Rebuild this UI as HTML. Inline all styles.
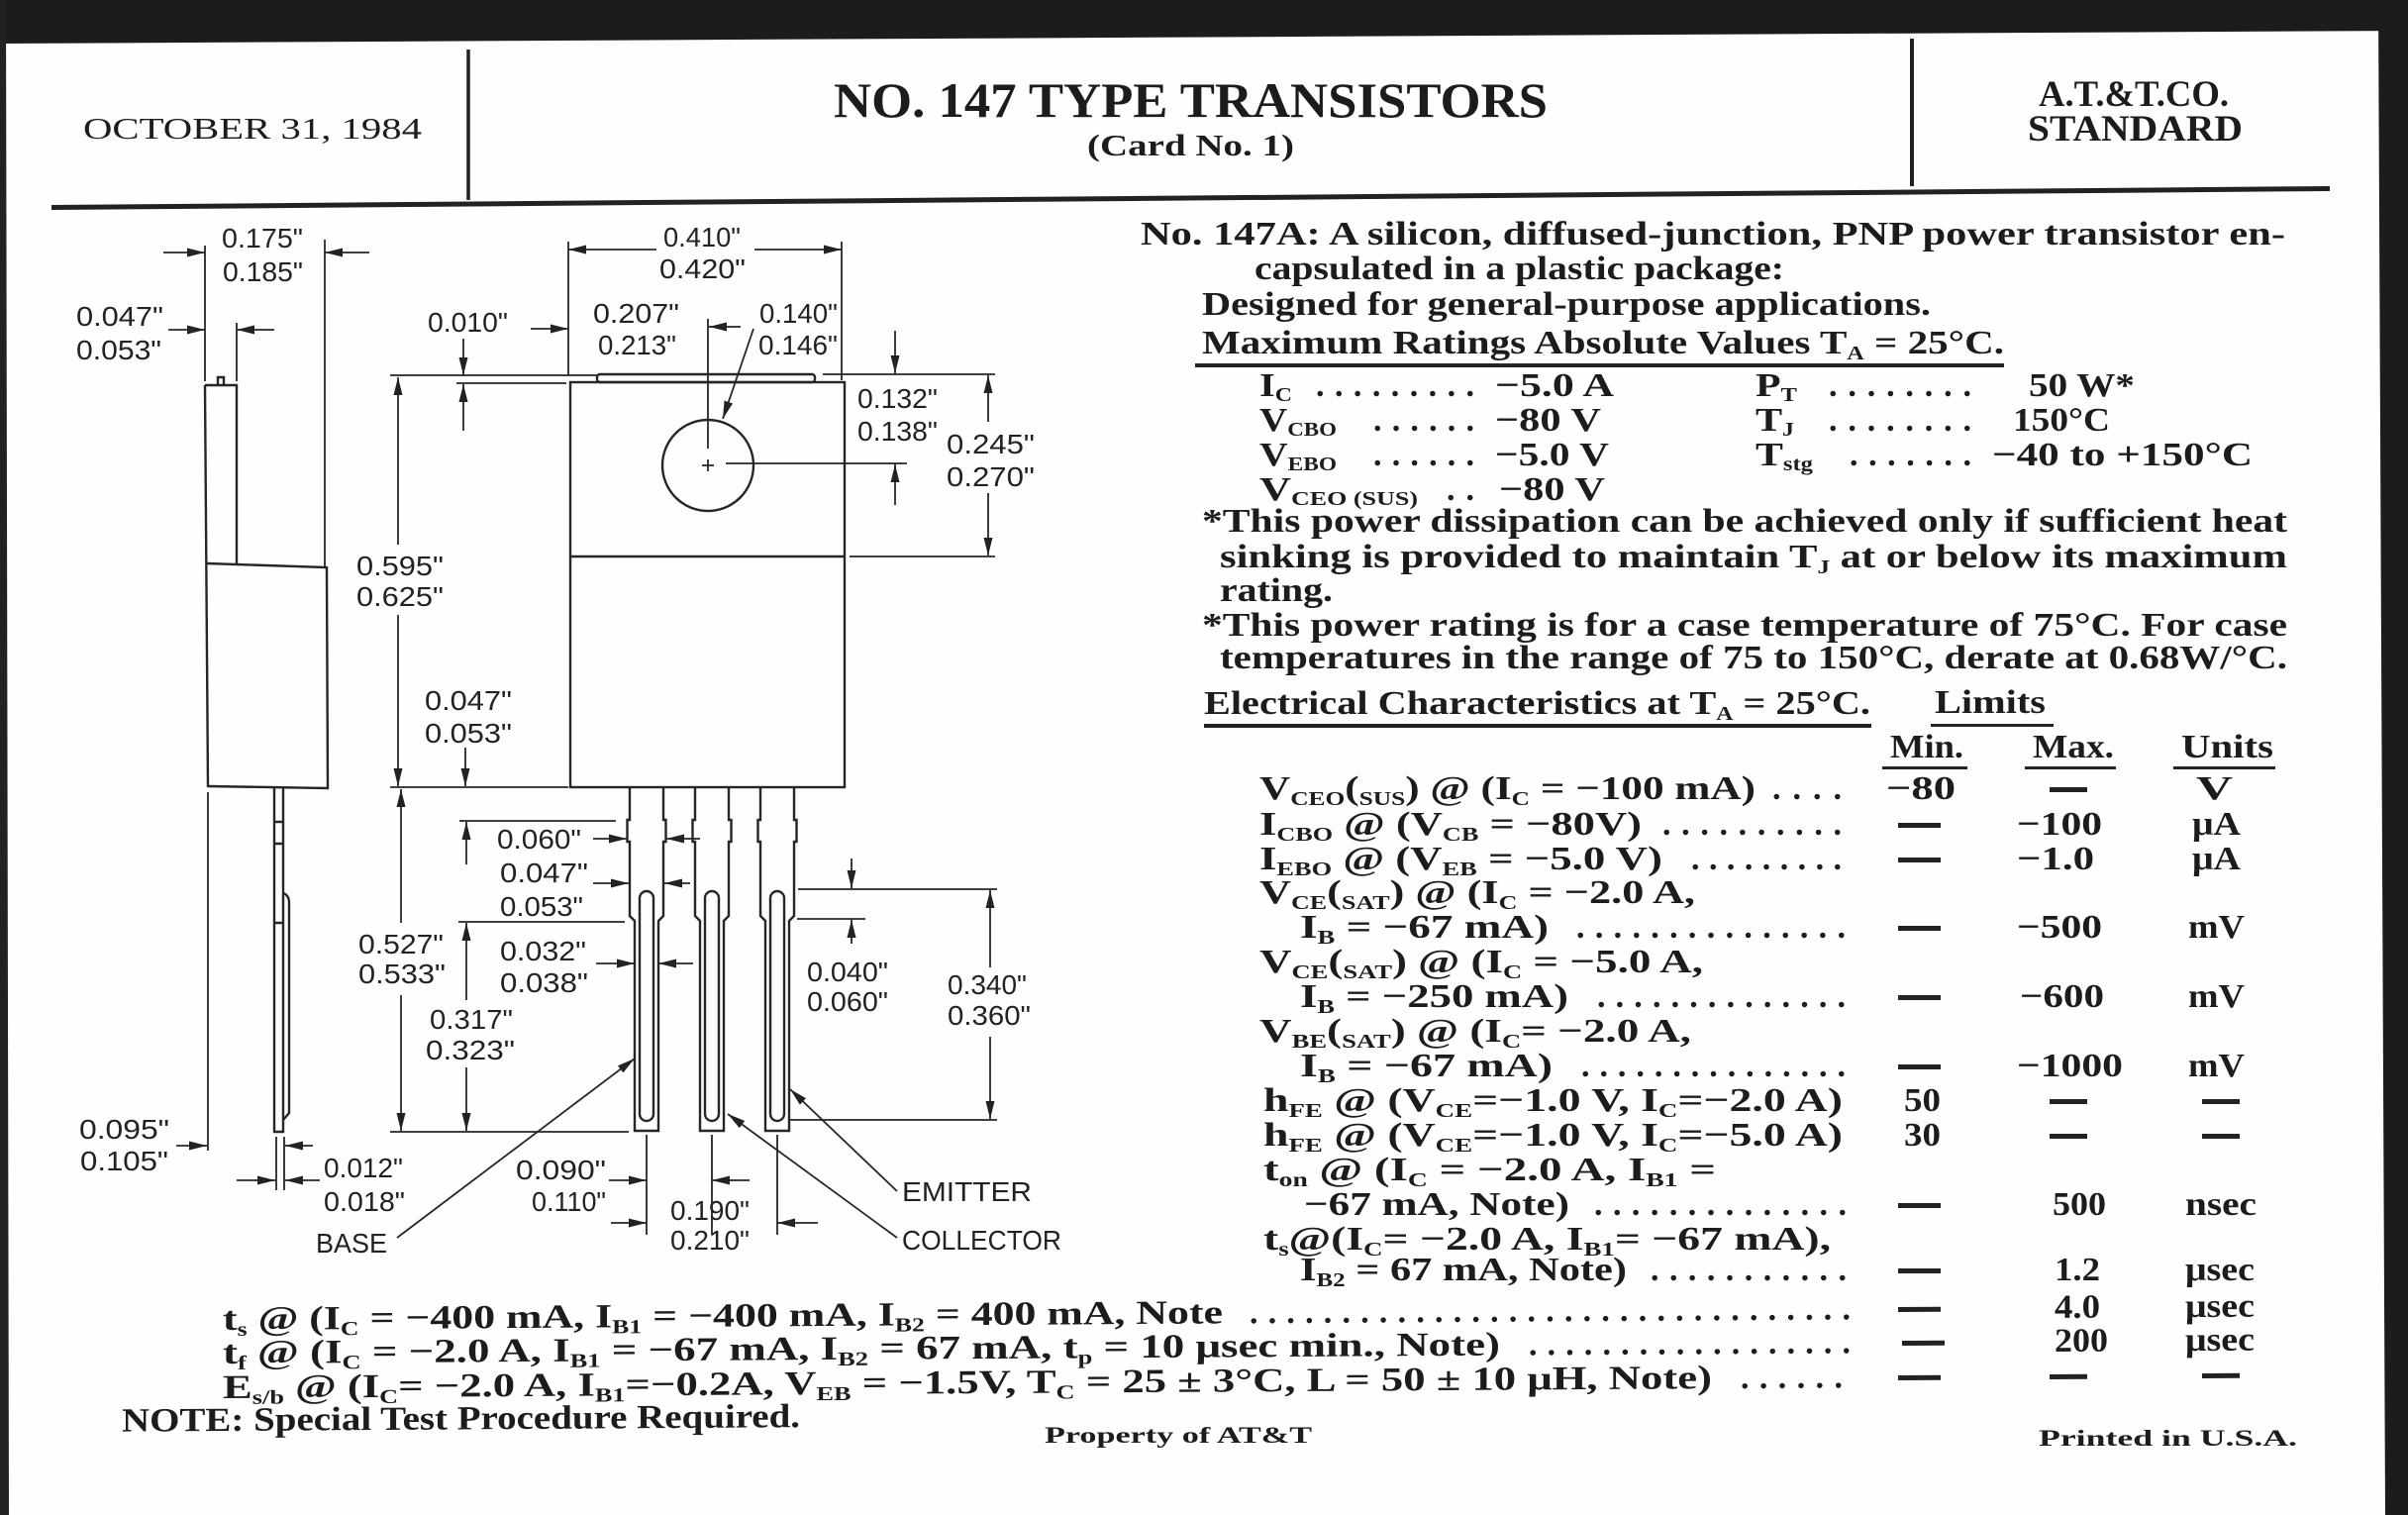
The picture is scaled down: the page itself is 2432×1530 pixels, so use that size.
<!DOCTYPE html>
<html><head><meta charset="utf-8">
<style>
html,body{margin:0;padding:0;background:#fff;}
svg{display:block}
.d{font-family:"Liberation Sans",Arial,sans-serif;font-size:28px;fill:#222}
.t{font-family:"Liberation Serif","Times New Roman",serif;font-weight:bold;font-size:34px;fill:#1c1c1c}
.s{font-size:20px}
.ln{stroke:#262626;stroke-width:2.4;fill:none}
.ln2{stroke:#262626;stroke-width:1.8;fill:none}
</style></head><body>
<svg width="2432" height="1530" viewBox="0 0 2432 1530" xmlns="http://www.w3.org/2000/svg">
<defs>
<marker id="a" viewBox="0 0 18 9" refX="18" refY="4.5" markerWidth="18" markerHeight="9" markerUnits="userSpaceOnUse" orient="auto">
<path d="M0,0 L18,4.5 L0,9 z" fill="#222"/>
</marker>
</defs>
<rect x="0" y="0" width="2432" height="1530" fill="#fefefe"/>
<!-- scan borders -->
<polygon points="0,0 2432,0 2432,31 0,44" fill="#1c1c1c"/>
<polygon points="2402,0 2432,0 2432,1530 2409,1530" fill="#1c1c1c"/>
<polygon points="0,0 6,0 9,1530 0,1530" fill="#222"/>

<!-- header -->
<text x="84" y="140" textLength="342" lengthAdjust="spacingAndGlyphs" style="font-family:'Liberation Serif',serif;font-size:31px;fill:#1c1c1c">OCTOBER 31, 1984</text>
<line x1="473" y1="50" x2="473" y2="202" stroke="#222" stroke-width="3.5"/>
<text x="842" y="118" textLength="721" lengthAdjust="spacingAndGlyphs" style="font-family:'Liberation Serif',serif;font-weight:bold;font-size:50px;fill:#1c1c1c">NO. 147 TYPE TRANSISTORS</text>
<text x="1098" y="157" textLength="209" lengthAdjust="spacingAndGlyphs" style="font-family:'Liberation Serif',serif;font-weight:bold;font-size:31px;fill:#1c1c1c">(Card No. 1)</text>
<line x1="1931" y1="39" x2="1931" y2="188" stroke="#222" stroke-width="4"/>
<text x="2059" y="107" textLength="192" lengthAdjust="spacingAndGlyphs" style="font-family:'Liberation Serif',serif;font-weight:bold;font-size:37px;fill:#1c1c1c">A.T.&amp;T.CO.</text>
<text x="2048" y="142" textLength="217" lengthAdjust="spacingAndGlyphs" style="font-family:'Liberation Serif',serif;font-weight:bold;font-size:37px;fill:#1c1c1c">STANDARD</text>
<polygon points="52,207 2353,188 2353,193 52,212" fill="#222"/>

<!-- drawing -->
<g class="ln">
<!-- side view -->
<path d="M207,389 L210,795"/>
<path d="M207,389 H239 V569"/>
<path d="M220,389 V381 H226 V389"/>
<path d="M209,569 L330,573 L331,796 L210,794"/>
<path class="ln2" d="M207,248 V385 M239,326 V385 M328,242 V572"/>
<path class="ln2" d="M165,255 H207" marker-end="url(#a)"/>
<path class="ln2" d="M373,255 H328" marker-end="url(#a)"/>
<path class="ln2" d="M170,333 H207" marker-end="url(#a)"/>
<path class="ln2" d="M277,333 H239" marker-end="url(#a)"/>
<path d="M277,796 V1143 H286 V796 M277,830 H286 M277,852 H286 M277,932 H286"/>
<path d="M286,902 Q292,904 292,912 V1124 L286,1131"/>
<path class="ln2" d="M210,800 V1162 M279,1148 V1202 M287,1148 V1202"/>
<path class="ln2" d="M178,1157 H209" marker-end="url(#a)"/>
<path class="ln2" d="M316,1157 H288" marker-end="url(#a)"/>
<path class="ln2" d="M239,1192 H278" marker-end="url(#a)"/>
<path class="ln2" d="M323,1192 H288" marker-end="url(#a)"/>

<!-- front view -->
<rect x="576" y="386" width="277" height="409"/>
<path d="M576,562 H853"/>
<rect x="603" y="378" width="220" height="8" rx="3"/>
<circle cx="715" cy="470" r="46"/>
<path class="ln2" d="M709,470 H721 M715,464 V476"/>
<path class="ln2" d="M715,322 V453 M733,468 H916"/>
<path class="ln2" d="M574,244 V379 M850,244 V384"/>
<path class="ln2" d="M663,252 H574" marker-end="url(#a)"/>
<path class="ln2" d="M762,252 H850" marker-end="url(#a)"/>
<path class="ln2" d="M394,379 H603 M461,387 H572"/>
<path class="ln2" d="M468,342 V379" marker-end="url(#a)"/>
<path class="ln2" d="M468,435 V388" marker-end="url(#a)"/>
<path class="ln2" d="M536,332 H574" marker-end="url(#a)"/>
<path class="ln2" d="M748,330 H716" marker-end="url(#a)"/>
<path class="ln2" d="M761,332 L730,423" marker-end="url(#a)"/>
<path class="ln2" d="M831,378 H1005"/>
<path class="ln2" d="M904,334 V377" marker-end="url(#a)"/>
<path class="ln2" d="M904,510 V469" marker-end="url(#a)"/>
<path class="ln2" d="M998,426 V379" marker-end="url(#a)"/>
<path class="ln2" d="M998,498 V561" marker-end="url(#a)"/>
<path class="ln2" d="M858,562 H1005"/>
<path class="ln2" d="M402,550 V381" marker-end="url(#a)"/>
<path class="ln2" d="M402,621 V794" marker-end="url(#a)"/>
<path class="ln2" d="M394,795 H574"/>
<path class="ln2" d="M470,755 V794" marker-end="url(#a)"/>
<path class="ln2" d="M471,873 V830" marker-end="url(#a)"/>
<path class="ln2" d="M405,932 V797" marker-end="url(#a)"/>
<path class="ln2" d="M405,1005 V1142" marker-end="url(#a)"/>
<path class="ln2" d="M471,1010 V932" marker-end="url(#a)"/>
<path class="ln2" d="M471,1078 V1142" marker-end="url(#a)"/>
<path class="ln2" d="M464,829 H622 M463,931 H631 M394,1143 H635"/>

<!-- leads -->
<path d="M636,795 V828 H633.5 V850 H636 V925 L641,930 V1142 H665 V930 L670,925 V850 H672.5 V828 H670 V795"/>
<rect x="646" y="900" width="14" height="232" rx="7"/>
<path d="M702,795 V828 H699.5 V850 H702 V925 L707,930 V1142 H731 V930 L736,925 V850 H738.5 V828 H736 V795"/>
<rect x="712" y="900" width="14" height="232" rx="7"/>
<path d="M768,795 V828 H765.5 V850 H768 V925 L773,930 V1142 H797 V930 L802,925 V850 H804.5 V828 H802 V795"/>
<rect x="778" y="900" width="14" height="232" rx="7"/>

<path class="ln2" d="M860,867 V897" marker-end="url(#a)"/>
<path class="ln2" d="M860,953 V929" marker-end="url(#a)"/>
<path class="ln2" d="M1000,977 V899" marker-end="url(#a)"/>
<path class="ln2" d="M1000,1047 V1130" marker-end="url(#a)"/>
<path class="ln2" d="M806,898 H1007 M805,928 H874 M798,1131 H1007"/>

<path class="ln2" d="M599,847 H633" marker-end="url(#a)"/>
<path class="ln2" d="M707,847 H673" marker-end="url(#a)"/>
<path class="ln2" d="M599,892 H635" marker-end="url(#a)"/>
<path class="ln2" d="M697,892 H671" marker-end="url(#a)"/>
<path class="ln2" d="M602,973 H641" marker-end="url(#a)"/>
<path class="ln2" d="M700,973 H665" marker-end="url(#a)"/>

<path class="ln2" d="M653,1146 V1247 M719,1146 V1247 M785,1146 V1247"/>
<path class="ln2" d="M615,1192 H653" marker-end="url(#a)"/>
<path class="ln2" d="M757,1192 H719" marker-end="url(#a)"/>
<path class="ln2" d="M617,1235 H653" marker-end="url(#a)"/>
<path class="ln2" d="M826,1235 H785" marker-end="url(#a)"/>
<path class="ln2" d="M401,1250 L641,1069" marker-end="url(#a)"/>
<path class="ln2" d="M906,1203 L798,1100" marker-end="url(#a)"/>
<path class="ln2" d="M906,1250 L735,1125" marker-end="url(#a)"/>
</g>

<!-- dimension labels -->
<g class="d">
<text x="224" y="250" textLength="82" lengthAdjust="spacingAndGlyphs">0.175"</text>
<text x="225" y="284" textLength="81" lengthAdjust="spacingAndGlyphs">0.185"</text>
<text x="77" y="329" textLength="88" lengthAdjust="spacingAndGlyphs">0.047"</text>
<text x="77" y="363" textLength="86" lengthAdjust="spacingAndGlyphs">0.053"</text>
<text x="432" y="335" textLength="81" lengthAdjust="spacingAndGlyphs">0.010"</text>
<text x="670" y="249" textLength="78" lengthAdjust="spacingAndGlyphs">0.410"</text>
<text x="666" y="281" textLength="87" lengthAdjust="spacingAndGlyphs">0.420"</text>
<text x="599" y="326" textLength="87" lengthAdjust="spacingAndGlyphs">0.207"</text>
<text x="604" y="358" textLength="79" lengthAdjust="spacingAndGlyphs">0.213"</text>
<text x="767" y="326" textLength="79" lengthAdjust="spacingAndGlyphs">0.140"</text>
<text x="766" y="358" textLength="80" lengthAdjust="spacingAndGlyphs">0.146"</text>
<text x="866" y="412" textLength="81" lengthAdjust="spacingAndGlyphs">0.132"</text>
<text x="866" y="445" textLength="81" lengthAdjust="spacingAndGlyphs">0.138"</text>
<text x="956" y="458" textLength="89" lengthAdjust="spacingAndGlyphs">0.245"</text>
<text x="956" y="491" textLength="89" lengthAdjust="spacingAndGlyphs">0.270"</text>
<text x="360" y="581" textLength="88" lengthAdjust="spacingAndGlyphs">0.595"</text>
<text x="360" y="612" textLength="88" lengthAdjust="spacingAndGlyphs">0.625"</text>
<text x="429" y="717" textLength="88" lengthAdjust="spacingAndGlyphs">0.047"</text>
<text x="429" y="750" textLength="88" lengthAdjust="spacingAndGlyphs">0.053"</text>
<text x="502" y="857" textLength="85" lengthAdjust="spacingAndGlyphs">0.060"</text>
<text x="505" y="891" textLength="89" lengthAdjust="spacingAndGlyphs">0.047"</text>
<text x="505" y="925" textLength="84" lengthAdjust="spacingAndGlyphs">0.053"</text>
<text x="362" y="963" textLength="86" lengthAdjust="spacingAndGlyphs">0.527"</text>
<text x="362" y="993" textLength="88" lengthAdjust="spacingAndGlyphs">0.533"</text>
<text x="505" y="970" textLength="87" lengthAdjust="spacingAndGlyphs">0.032"</text>
<text x="505" y="1002" textLength="89" lengthAdjust="spacingAndGlyphs">0.038"</text>
<text x="434" y="1039" textLength="84" lengthAdjust="spacingAndGlyphs">0.317"</text>
<text x="430" y="1070" textLength="90" lengthAdjust="spacingAndGlyphs">0.323"</text>
<text x="815" y="991" textLength="82" lengthAdjust="spacingAndGlyphs">0.040"</text>
<text x="815" y="1021" textLength="82" lengthAdjust="spacingAndGlyphs">0.060"</text>
<text x="957" y="1004" textLength="80" lengthAdjust="spacingAndGlyphs">0.340"</text>
<text x="957" y="1035" textLength="84" lengthAdjust="spacingAndGlyphs">0.360"</text>
<text x="80" y="1150" textLength="91" lengthAdjust="spacingAndGlyphs">0.095"</text>
<text x="81" y="1182" textLength="89" lengthAdjust="spacingAndGlyphs">0.105"</text>
<text x="327" y="1189" textLength="80" lengthAdjust="spacingAndGlyphs">0.012"</text>
<text x="327" y="1223" textLength="82" lengthAdjust="spacingAndGlyphs">0.018"</text>
<text x="521" y="1191" textLength="91" lengthAdjust="spacingAndGlyphs">0.090"</text>
<text x="537" y="1223" textLength="75" lengthAdjust="spacingAndGlyphs">0.110"</text>
<text x="677" y="1232" textLength="80" lengthAdjust="spacingAndGlyphs">0.190"</text>
<text x="677" y="1262" textLength="80" lengthAdjust="spacingAndGlyphs">0.210"</text>
<text x="319" y="1265" textLength="72" lengthAdjust="spacingAndGlyphs">BASE</text>
<text x="911" y="1213" textLength="131" lengthAdjust="spacingAndGlyphs">EMITTER</text>
<text x="911" y="1262" textLength="161" lengthAdjust="spacingAndGlyphs">COLLECTOR</text>
</g>

<!-- right text -->
<g class="t">
<text x="1152" y="247" textLength="1156" lengthAdjust="spacingAndGlyphs">No. 147A: A silicon, diffused-junction, PNP power transistor en-</text>
<text x="1267" y="282" textLength="535" lengthAdjust="spacingAndGlyphs">capsulated in a plastic package:</text>
<text x="1214" y="318" textLength="736" lengthAdjust="spacingAndGlyphs">Designed for general-purpose applications.</text>
<text x="1214" y="357" textLength="810" lengthAdjust="spacingAndGlyphs">Maximum Ratings Absolute Values T<tspan class="s" dy="6">A</tspan><tspan dy="-6"> = 25°C.</tspan></text>
<rect x="1207" y="367" width="817" height="4" fill="#222"/>

<text x="1272" y="400" textLength="33" lengthAdjust="spacingAndGlyphs">I<tspan class="s" dy="5">C</tspan></text>
<text x="1329" y="400" textLength="160" lengthAdjust="spacing">.........</text>
<text x="1510" y="400" textLength="120" lengthAdjust="spacingAndGlyphs">−5.0 A</text>
<text x="1272" y="435" textLength="78" lengthAdjust="spacingAndGlyphs">V<tspan class="s" dy="5">CBO</tspan></text>
<text x="1387" y="435" textLength="102" lengthAdjust="spacing">......</text>
<text x="1510" y="435" textLength="107" lengthAdjust="spacingAndGlyphs">−80 V</text>
<text x="1272" y="470" textLength="78" lengthAdjust="spacingAndGlyphs">V<tspan class="s" dy="5">EBO</tspan></text>
<text x="1387" y="470" textLength="102" lengthAdjust="spacing">......</text>
<text x="1510" y="470" textLength="115" lengthAdjust="spacingAndGlyphs">−5.0 V</text>
<text x="1272" y="505" textLength="160" lengthAdjust="spacingAndGlyphs">V<tspan class="s" dy="5">CEO  (SUS)</tspan></text>
<text x="1461" y="505" textLength="28" lengthAdjust="spacing">..</text>
<text x="1514" y="505" textLength="107" lengthAdjust="spacingAndGlyphs">−80 V</text>
<text x="1773" y="400" textLength="42" lengthAdjust="spacingAndGlyphs">P<tspan class="s" dy="5">T</tspan></text>
<text x="1847" y="400" textLength="144" lengthAdjust="spacing">........</text>
<text x="2049" y="400" textLength="107" lengthAdjust="spacingAndGlyphs">50 W*</text>
<text x="1773" y="435" textLength="39" lengthAdjust="spacingAndGlyphs">T<tspan class="s" dy="5">J</tspan></text>
<text x="1847" y="435" textLength="144" lengthAdjust="spacing">........</text>
<text x="2033" y="435" textLength="98" lengthAdjust="spacingAndGlyphs">150°C</text>
<text x="1773" y="470" textLength="58" lengthAdjust="spacingAndGlyphs">T<tspan class="s" dy="5">stg</tspan></text>
<text x="1868" y="470" textLength="123" lengthAdjust="spacing">.......</text>
<text x="2012" y="470" textLength="263" lengthAdjust="spacingAndGlyphs">−40 to +150°C</text>

<text x="1214" y="537" textLength="1096" lengthAdjust="spacingAndGlyphs">*This power dissipation can be achieved only if sufficient heat</text>
<text x="1232" y="573" textLength="1078" lengthAdjust="spacingAndGlyphs">sinking is provided to maintain T<tspan class="s" dy="6">J</tspan><tspan dy="-6"> at or below its maximum</tspan></text>
<text x="1232" y="607" textLength="114" lengthAdjust="spacingAndGlyphs">rating.</text>
<text x="1214" y="642" textLength="1096" lengthAdjust="spacingAndGlyphs">*This power rating is for a case temperature of 75°C. For case</text>
<text x="1232" y="675" textLength="1078" lengthAdjust="spacingAndGlyphs">temperatures in the range of 75 to 150°C, derate at 0.68W/°C.</text>

<text x="1216" y="721" textLength="673" lengthAdjust="spacingAndGlyphs">Electrical Characteristics at T<tspan class="s" dy="6">A</tspan><tspan dy="-6"> = 25°C.</tspan></text>
<rect x="1216" y="731" width="674" height="4" fill="#222"/>
<text x="1954" y="720" textLength="112" lengthAdjust="spacingAndGlyphs">Limits</text>
<rect x="1950" y="731" width="124" height="3" fill="#222"/>
<text x="1909" y="765" textLength="74" lengthAdjust="spacingAndGlyphs">Min.</text>
<rect x="1901" y="774" width="86" height="3" fill="#222"/>
<text x="2053" y="765" textLength="82" lengthAdjust="spacingAndGlyphs">Max.</text>
<rect x="2045" y="774" width="92" height="3" fill="#222"/>
<text x="2203" y="765" textLength="93" lengthAdjust="spacingAndGlyphs">Units</text>
<rect x="2195" y="774" width="103" height="3" fill="#222"/>

<!-- rows -->
<text x="1272" y="807" textLength="501" lengthAdjust="spacingAndGlyphs">V<tspan class="s" dy="6">CEO</tspan><tspan dy="-6">(</tspan><tspan class="s" dy="6">SUS</tspan><tspan dy="-6">) @ (I</tspan><tspan class="s" dy="6">C</tspan><tspan dy="-6"> = −100 mA)</tspan></text>
<text x="1790" y="807" textLength="70" lengthAdjust="spacing">....</text>
<text x="1905" y="807" textLength="70" lengthAdjust="spacingAndGlyphs">−80</text>
<rect x="2070" y="795" width="38" height="5" fill="#222"/>
<text x="2218" y="807" textLength="37" lengthAdjust="spacingAndGlyphs">V</text>

<text x="1272" y="843" textLength="386" lengthAdjust="spacingAndGlyphs">I<tspan class="s" dy="6">CBO</tspan><tspan dy="-6"> @ (V</tspan><tspan class="s" dy="6">CB</tspan><tspan dy="-6"> = −80V)</tspan></text>
<text x="1679" y="843" textLength="181" lengthAdjust="spacing">..........</text>
<rect x="1917" y="831" width="43" height="5" fill="#222"/>
<text x="2037" y="843" textLength="86" lengthAdjust="spacingAndGlyphs">−100</text>
<text x="2214" y="843" textLength="49" lengthAdjust="spacingAndGlyphs">μA</text>

<text x="1272" y="878" textLength="407" lengthAdjust="spacingAndGlyphs">I<tspan class="s" dy="6">EBO</tspan><tspan dy="-6"> @ (V</tspan><tspan class="s" dy="6">EB</tspan><tspan dy="-6"> = −5.0 V)</tspan></text>
<text x="1708" y="878" textLength="152" lengthAdjust="spacing">.........</text>
<rect x="1917" y="866" width="43" height="5" fill="#222"/>
<text x="2037" y="878" textLength="78" lengthAdjust="spacingAndGlyphs">−1.0</text>
<text x="2214" y="878" textLength="49" lengthAdjust="spacingAndGlyphs">μA</text>

<text x="1272" y="912" textLength="440" lengthAdjust="spacingAndGlyphs">V<tspan class="s" dy="6">CE</tspan><tspan dy="-6">(</tspan><tspan class="s" dy="6">SAT</tspan><tspan dy="-6">) @ (I</tspan><tspan class="s" dy="6">C</tspan><tspan dy="-6"> = −2.0 A,</tspan></text>
<text x="1313" y="947" textLength="251" lengthAdjust="spacingAndGlyphs">I<tspan class="s" dy="6">B</tspan><tspan dy="-6"> = −67 mA)</tspan></text>
<text x="1592" y="947" textLength="272" lengthAdjust="spacing">...............</text>
<rect x="1917" y="935" width="43" height="5" fill="#222"/>
<text x="2037" y="947" textLength="86" lengthAdjust="spacingAndGlyphs">−500</text>
<text x="2210" y="947" textLength="57" lengthAdjust="spacingAndGlyphs">mV</text>

<text x="1272" y="982" textLength="448" lengthAdjust="spacingAndGlyphs">V<tspan class="s" dy="6">CE</tspan><tspan dy="-6">(</tspan><tspan class="s" dy="6">SAT</tspan><tspan dy="-6">) @ (I</tspan><tspan class="s" dy="6">C</tspan><tspan dy="-6"> = −5.0 A,</tspan></text>
<text x="1313" y="1017" textLength="271" lengthAdjust="spacingAndGlyphs">I<tspan class="s" dy="6">B</tspan><tspan dy="-6"> = −250 mA)</tspan></text>
<text x="1613" y="1017" textLength="251" lengthAdjust="spacing">..............</text>
<rect x="1917" y="1005" width="43" height="5" fill="#222"/>
<text x="2040" y="1017" textLength="85" lengthAdjust="spacingAndGlyphs">−600</text>
<text x="2210" y="1017" textLength="57" lengthAdjust="spacingAndGlyphs">mV</text>

<text x="1272" y="1052" textLength="436" lengthAdjust="spacingAndGlyphs">V<tspan class="s" dy="6">BE</tspan><tspan dy="-6">(</tspan><tspan class="s" dy="6">SAT</tspan><tspan dy="-6">) @ (I</tspan><tspan class="s" dy="6">C</tspan><tspan dy="-6">= −2.0 A,</tspan></text>
<text x="1313" y="1087" textLength="255" lengthAdjust="spacingAndGlyphs">I<tspan class="s" dy="6">B</tspan><tspan dy="-6"> = −67 mA)</tspan></text>
<text x="1597" y="1087" textLength="267" lengthAdjust="spacing">...............</text>
<rect x="1917" y="1075" width="43" height="5" fill="#222"/>
<text x="2037" y="1087" textLength="107" lengthAdjust="spacingAndGlyphs">−1000</text>
<text x="2210" y="1087" textLength="57" lengthAdjust="spacingAndGlyphs">mV</text>

<text x="1276" y="1122" textLength="585" lengthAdjust="spacingAndGlyphs">h<tspan class="s" dy="6">FE</tspan><tspan dy="-6"> @ (V</tspan><tspan class="s" dy="6">CE</tspan><tspan dy="-6">=−1.0 V, I</tspan><tspan class="s" dy="6">C</tspan><tspan dy="-6">=−2.0 A)</tspan></text>
<text x="1923" y="1122" textLength="37" lengthAdjust="spacingAndGlyphs">50</text>
<rect x="2070" y="1110" width="38" height="5" fill="#222"/>
<rect x="2224" y="1110" width="38" height="5" fill="#222"/>

<text x="1276" y="1157" textLength="585" lengthAdjust="spacingAndGlyphs">h<tspan class="s" dy="6">FE</tspan><tspan dy="-6"> @ (V</tspan><tspan class="s" dy="6">CE</tspan><tspan dy="-6">=−1.0 V, I</tspan><tspan class="s" dy="6">C</tspan><tspan dy="-6">=−5.0 A)</tspan></text>
<text x="1923" y="1157" textLength="37" lengthAdjust="spacingAndGlyphs">30</text>
<rect x="2070" y="1145" width="38" height="5" fill="#222"/>
<rect x="2224" y="1145" width="38" height="5" fill="#222"/>

<text x="1276" y="1192" textLength="457" lengthAdjust="spacingAndGlyphs">t<tspan class="s" dy="6">on</tspan><tspan dy="-6"> @ (I</tspan><tspan class="s" dy="6">C</tspan><tspan dy="-6"> = −2.0 A, I</tspan><tspan class="s" dy="6">B1</tspan><tspan dy="-6"> =</tspan></text>
<text x="1317" y="1227" textLength="268" lengthAdjust="spacingAndGlyphs">−67 mA, Note)</text>
<text x="1610" y="1227" textLength="255" lengthAdjust="spacing">..............</text>
<rect x="1917" y="1215" width="43" height="5" fill="#222"/>
<text x="2073" y="1227" textLength="54" lengthAdjust="spacingAndGlyphs">500</text>
<text x="2207" y="1227" textLength="72" lengthAdjust="spacingAndGlyphs">nsec</text>

<text x="1276" y="1262" textLength="573" lengthAdjust="spacingAndGlyphs">t<tspan class="s" dy="6">s</tspan><tspan dy="-6">@(I</tspan><tspan class="s" dy="6">C</tspan><tspan dy="-6">= −2.0 A, I</tspan><tspan class="s" dy="6">B1</tspan><tspan dy="-6">= −67 mA),</tspan></text>
<text x="1313" y="1293" textLength="330" lengthAdjust="spacingAndGlyphs">I<tspan class="s" dy="6">B2</tspan><tspan dy="-6"> = 67 mA, Note)</tspan></text>
<text x="1667" y="1293" textLength="198" lengthAdjust="spacing">...........</text>
<rect x="1917" y="1281" width="43" height="5" fill="#222"/>
<text x="2075" y="1293" textLength="46" lengthAdjust="spacingAndGlyphs">1.2</text>
<text x="2207" y="1293" textLength="70" lengthAdjust="spacingAndGlyphs">μsec</text>
</g>

<!-- bottom lines -->
<g class="t" transform="matrix(1,-0.0065,0,1,0,1.4625)">
<text x="225" y="1343" textLength="1010" lengthAdjust="spacingAndGlyphs">t<tspan class="s" dy="6">s</tspan><tspan dy="-6"> @ (I</tspan><tspan class="s" dy="6">C</tspan><tspan dy="-6"> = −400 mA, I</tspan><tspan class="s" dy="6">B1</tspan><tspan dy="-6"> = −400 mA, I</tspan><tspan class="s" dy="6">B2</tspan><tspan dy="-6"> = 400 mA, Note</tspan></text>
<text x="1262" y="1343" textLength="607" lengthAdjust="spacing">.................................</text>
<rect x="1917" y="1331" width="43" height="5" fill="#222"/>
<text x="2075" y="1343" textLength="46" lengthAdjust="spacingAndGlyphs">4.0</text>
<text x="2207" y="1343" textLength="70" lengthAdjust="spacingAndGlyphs">μsec</text>

<text x="225" y="1377" textLength="1290" lengthAdjust="spacingAndGlyphs">t<tspan class="s" dy="6">f</tspan><tspan dy="-6"> @ (I</tspan><tspan class="s" dy="6">C</tspan><tspan dy="-6"> = −2.0 A, I</tspan><tspan class="s" dy="6">B1</tspan><tspan dy="-6"> = −67 mA, I</tspan><tspan class="s" dy="6">B2</tspan><tspan dy="-6"> = 67 mA, t</tspan><tspan class="s" dy="6">p</tspan><tspan dy="-6"> = 10 μsec min., Note)</tspan></text>
<text x="1544" y="1377" textLength="325" lengthAdjust="spacing">..................</text>
<rect x="1921" y="1365" width="43" height="5" fill="#222"/>
<text x="2075" y="1377" textLength="54" lengthAdjust="spacingAndGlyphs">200</text>
<text x="2207" y="1377" textLength="70" lengthAdjust="spacingAndGlyphs">μsec</text>

<text x="225" y="1412" textLength="1504" lengthAdjust="spacingAndGlyphs">E<tspan class="s" dy="6">s/b</tspan><tspan dy="-6"> @ (I</tspan><tspan class="s" dy="6">C</tspan><tspan dy="-6">= −2.0 A, I</tspan><tspan class="s" dy="6">B1</tspan><tspan dy="-6">=−0.2A, V</tspan><tspan class="s" dy="6">EB</tspan><tspan dy="-6"> = −1.5V, T</tspan><tspan class="s" dy="6">C</tspan><tspan dy="-6"> = 25 ± 3°C, L = 50 ± 10 μH, Note)</tspan></text>
<text x="1758" y="1412" textLength="103" lengthAdjust="spacing">......</text>
<rect x="1917" y="1400" width="43" height="5" fill="#222"/>
<rect x="2070" y="1400" width="38" height="5" fill="#222"/>
<rect x="2224" y="1400" width="38" height="5" fill="#222"/>

<text x="123" y="1445" textLength="685" lengthAdjust="spacingAndGlyphs">NOTE: Special Test Procedure Required.</text>
</g>

<text x="1055" y="1457" textLength="270" lengthAdjust="spacingAndGlyphs" style="font-family:'Liberation Serif',serif;font-weight:bold;font-size:23px;fill:#1c1c1c">Property of AT&amp;T</text>
<text x="2059" y="1460" textLength="261" lengthAdjust="spacingAndGlyphs" style="font-family:'Liberation Serif',serif;font-weight:bold;font-size:23px;fill:#1c1c1c">Printed in U.S.A.</text>
</svg>
</body></html>
